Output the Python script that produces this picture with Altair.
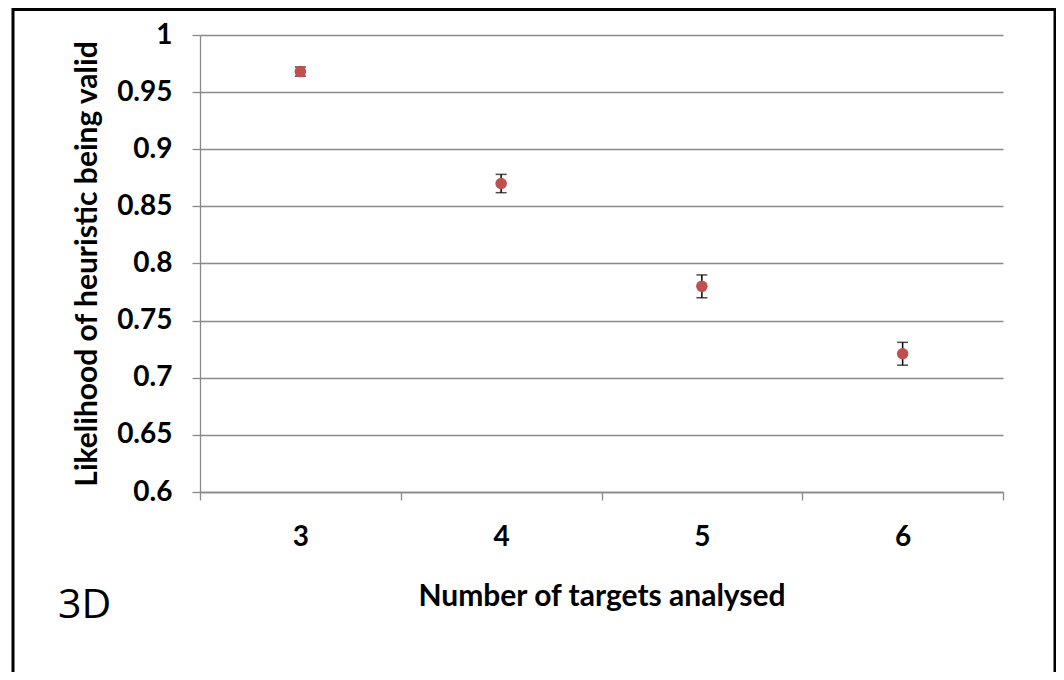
import altair as alt
import pandas as pd

targets = [3, 4, 5, 6]
likelihood = [0.968, 0.870, 0.780, 0.721]
error = [0.004, 0.008, 0.010, 0.010]
y_ticks = [0.6, 0.65, 0.7, 0.75, 0.8, 0.85, 0.9, 0.95, 1.0]
x_boundaries = [2.5, 3.5, 4.5, 5.5, 6.5]

df = pd.DataFrame({"targets": targets, "likelihood": likelihood, "error": error})
df["lo"] = df["likelihood"] - df["error"]
df["hi"] = df["likelihood"] + df["error"]

FONT = "Lato"
GRAY = "#898989"

x_enc = alt.X(
    "targets:Q",
    scale=alt.Scale(domain=[2.5, 6.5], nice=False, zero=False),
    axis=alt.Axis(
        values=x_boundaries,
        labelExpr="datum.value < 6 ? format(datum.value + 0.5, 'd') : ''",
        labelOffset=100.4,
        labelFlush=False,
        labelOverlap=False,
        labelBaseline="alphabetic",
        labelPadding=45,
        grid=False,
        tickSize=8,
        title="Number of targets analysed",
        titleX=401.5,
        titleY=113,
        titleBaseline="alphabetic",
        titleAlign="center",
    ),
)
y_scale = alt.Scale(domain=[0.6, 1.0], nice=False, zero=False)
y_axis = alt.Axis(
    values=y_ticks,
    format=".2~f",
    labelFlush=False,
    labelOverlap=False,
    labelPadding=20,
    tickSize=8,
    grid=True,
    title="Likelihood of heuristic being valid",
    titleX=-98,
    titleY=228.5,
    titleAngle=-90,
    titleBaseline="bottom",
    titleAlign="center",
)

base = alt.Chart(df)

bars = base.mark_rule(color="black", strokeWidth=1.5).encode(
    x=x_enc,
    y=alt.Y("lo:Q", scale=y_scale, axis=y_axis),
    y2="hi:Q",
)
cap_lo = base.mark_tick(orient="horizontal", color="black", size=11, thickness=1.5).encode(
    x=x_enc, y=alt.Y("lo:Q", scale=y_scale, axis=y_axis)
)
cap_hi = base.mark_tick(orient="horizontal", color="black", size=11, thickness=1.5).encode(
    x=x_enc, y=alt.Y("hi:Q", scale=y_scale, axis=y_axis)
)
points = base.mark_circle(size=133, color="#C0504D", opacity=1).encode(
    x=x_enc, y=alt.Y("likelihood:Q", scale=y_scale, axis=y_axis)
)

frame = alt.Chart(alt.Data(values=[{}])).mark_rect(
    fill="transparent", stroke="black", strokeWidth=3
).encode(
    x=alt.value(-187), x2=alt.value(855), y=alt.value(-25.5), y2=alt.value(720)
)

label3d = alt.Chart(alt.Data(values=[{}])).mark_text(
    text="3D", align="left", baseline="alphabetic", fontSize=41, font="Open Sans",
    fontWeight="normal", color="black"
).encode(x=alt.value(-142), y=alt.value(583))

chart = (
    alt.layer(bars, cap_lo, cap_hi, points, frame, label3d)
    .properties(
        width=803,
        height=457,
        padding={"left": 192, "top": 27, "right": 53, "bottom": 180},
        autosize=alt.AutoSizeParams(type="none"),
    )
    .configure_view(stroke=None)
    .configure_axis(
        domainColor=GRAY,
        tickColor=GRAY,
        gridColor=GRAY,
        domainWidth=1.3,
        tickWidth=1.3,
        gridWidth=1.3,
        labelFont=FONT,
        labelFontWeight="bold",
        labelFontSize=28,
        labelColor="black",
        titleFont=FONT,
        titleFontWeight="bold",
        titleFontSize=30,
        titleColor="black",
    )
)

chart.save("out.html", embed_options={"renderer": "svg", "actions": False})
